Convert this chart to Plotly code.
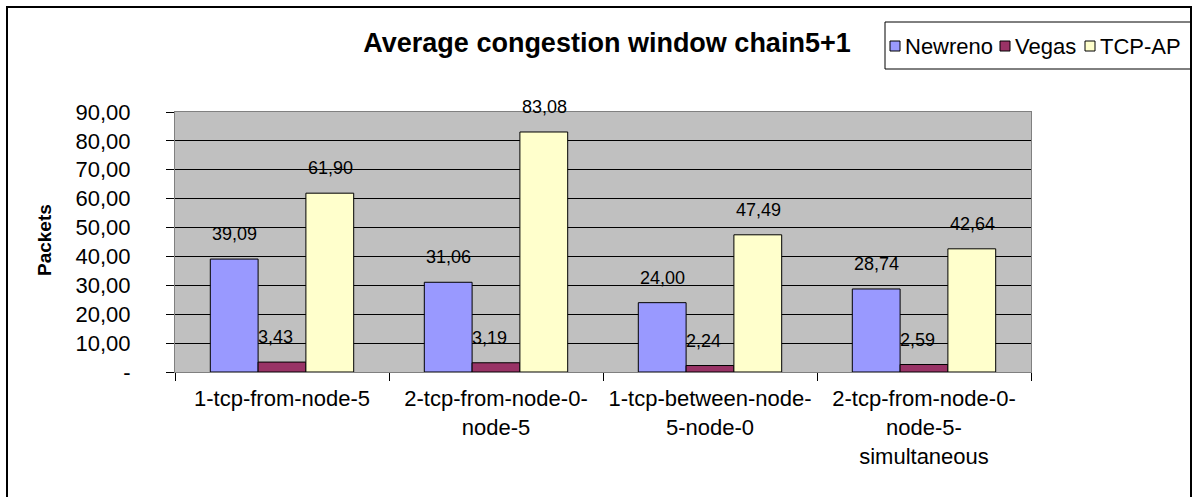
import plotly.graph_objects as go

# Average congestion window per scenario (packets)
categories = [
    "1-tcp-from-node-5",
    "2-tcp-from-node-0-<br>node-5",
    "1-tcp-between-node-<br>5-node-0",
    "2-tcp-from-node-0-<br>node-5-<br>simultaneous",
]
newreno = [39.09, 31.06, 24.00, 28.74]
vegas = [3.43, 3.19, 2.24, 2.59]
tcp_ap = [61.90, 83.08, 47.49, 42.64]

series_names = ["Newreno", "Vegas", "TCP-AP"]
series_colors = ["#9999FF", "#993366", "#FFFFCC"]

y_ticks = [0, 10, 20, 30, 40, 50, 60, 70, 80, 90]
y_ticklabels = ["-", "10,00", "20,00", "30,00", "40,00", "50,00",
                "60,00", "70,00", "80,00", "90,00"]

W, H = 1196, 497
L, R, T, B = 175, 1031, 112, 372  # plot area in pixels
FONT = "Liberation Sans, Arial, sans-serif"


def px_x(x):
    return (x - L) / (R - L)


def px_y(y):
    return (B - y) / (B - T)


def fmt(v):
    return f"{v:.2f}".replace(".", ",")


fig = go.Figure()
for name, vals, col in zip(series_names, [newreno, vegas, tcp_ap], series_colors):
    fig.add_trace(go.Bar(
        name=name, x=categories, y=vals,
        marker=dict(color=col, line=dict(color="black", width=1)),
        showlegend=False,
    ))

# value labels above each bar
bar_w = 48
label_dx = [0, -7, 0]
for i, vals in enumerate([newreno, vegas, tcp_ap]):
    for c, v in zip(categories, vals):
        fig.add_annotation(
            x=c, y=v, text=fmt(v), showarrow=False,
            xshift=(i - 1) * bar_w + label_dx[i], yshift=13, yanchor="bottom",
            font=dict(family=FONT, size=18, color="black"),
        )

fig.add_annotation(
    x=px_x(44), y=px_y(240), xref="paper", yref="paper", text="<b>Packets</b>",
    xanchor="center", yanchor="middle",
    textangle=-90, showarrow=False, font=dict(family=FONT, size=19, color="black"),
)

# legend box with swatches and series names
fig.add_shape(type="rect", xref="paper", yref="paper",
              x0=px_x(885), x1=px_x(1191), y0=px_y(69), y1=px_y(22),
              line=dict(color="black", width=1), fillcolor="white", layer="above")
swatch_x = [890, 1000, 1085]
text_x = [903, 1013, 1098]
for name, col, sx, tx in zip(series_names, series_colors, swatch_x, text_x):
    fig.add_shape(type="rect", xref="paper", yref="paper",
                  x0=px_x(sx), x1=px_x(sx + 10), y0=px_y(51), y1=px_y(41),
                  line=dict(color="black", width=1), fillcolor=col, layer="above")
    fig.add_annotation(x=px_x(tx), y=px_y(46), xref="paper", yref="paper",
                       text=name, showarrow=False, xanchor="left", yanchor="middle",
                       font=dict(family=FONT, size=22, color="black"))

# outer chart frame
fig.add_shape(type="rect", xref="paper", yref="paper",
              x0=px_x(7), x1=px_x(1191), y0=px_y(540), y1=px_y(7),
              line=dict(color="black", width=2), layer="above")

fig.update_layout(
    width=W, height=H,
    margin=dict(l=L, r=W - R, t=T, b=H - B, pad=0, autoexpand=False),
    paper_bgcolor="white", plot_bgcolor="#C0C0C0",
    barmode="group", bargap=0.33, bargroupgap=0,
    title=dict(text="<b>Average congestion window chain5+1</b>",
               x=px_x(607), xref="paper", xanchor="center",
               y=1 - 43 / H, yanchor="middle",
               font=dict(family=FONT, size=27, color="black")),
    showlegend=False,
    font=dict(family=FONT, color="black"),
)
fig.update_yaxes(
    range=[0, 90], tickvals=y_ticks, ticktext=y_ticklabels,
    showgrid=True, gridcolor="black", gridwidth=1,
    ticks="outside", ticklen=8, tickcolor="black",
    showline=True, linecolor="#808080", mirror=True,
    tickfont=dict(family=FONT, size=22, color="black"),
    ticklabelstandoff=31, automargin=False,
    zeroline=False,
)
fig.update_xaxes(
    tickson="boundaries", ticks="outside", ticklen=8, tickcolor="black",
    showline=True, linecolor="#808080", mirror=True,
    tickfont=dict(family=FONT, size=22, color="black"),
    ticklabelstandoff=7, automargin=False,
)
fig.write_html("out.html")
